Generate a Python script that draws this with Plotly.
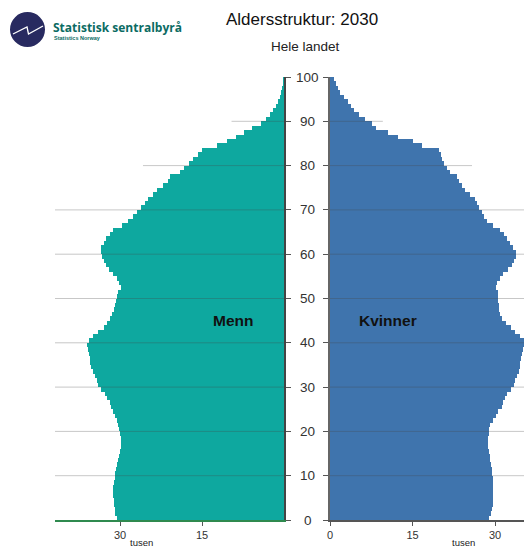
import plotly.graph_objects as go

# ---------------- data (thousands of persons, by one-year age 0-99) ----------------
ages = list(range(100))
men = [30.5, 30.9, 31.0, 31.1, 31.1, 31.2, 31.2, 31.2, 31.1, 31.0,
       30.9, 30.7, 30.5, 30.3, 30.1, 30.0, 29.9, 29.9, 29.9, 30.0,
       30.1, 30.3, 30.6, 30.9, 31.2, 31.6, 31.9, 32.3, 32.7, 33.4,
       34.0, 34.3, 34.6, 35.0, 35.3, 35.5, 35.5, 35.6, 35.9, 36.0,
       35.6, 34.9, 34.0, 33.0, 32.4, 31.9, 31.4, 31.1, 30.9, 30.7,
       30.6, 30.4, 29.8, 30.1, 30.6, 31.2, 32.0, 32.5, 33.0, 33.3,
       33.5, 33.4, 33.0, 32.5, 31.8, 31.2, 29.7, 28.5, 27.6, 26.9,
       26.1, 25.4, 24.8, 24.0, 23.2, 22.2, 21.3, 20.8, 19.0, 18.3,
       17.4, 16.6, 15.8, 15.0, 12.3, 10.5, 8.7, 7.4, 5.9, 4.2,
       3.3, 2.6, 2.0, 1.5, 1.1, 0.8, 0.55, 0.3, 0.15, 0.08]
women = [28.9, 29.3, 29.5, 29.6, 29.7, 29.7, 29.7, 29.7, 29.7, 29.6,
         29.5, 29.4, 29.2, 29.1, 29.0, 28.9, 28.7, 28.7, 28.7, 28.8,
         28.9, 29.1, 29.6, 30.2, 30.6, 31.2, 31.5, 31.8, 32.2, 32.8,
         33.4, 33.7, 34.0, 34.4, 34.6, 34.6, 34.7, 34.8, 35.0, 35.3,
         35.2, 34.5, 33.7, 32.9, 32.0, 31.3, 30.8, 30.7, 30.7, 30.6,
         30.6, 30.5, 30.1, 30.3, 30.8, 31.5, 32.4, 33.0, 33.4, 33.8,
         33.8, 33.3, 32.7, 32.1, 31.6, 30.8, 29.7, 28.6, 28.0, 27.6,
         27.1, 26.7, 26.4, 25.5, 24.5, 23.9, 23.4, 23.0, 21.8, 21.2,
         20.8, 20.4, 20.1, 19.8, 16.7, 15.0, 12.4, 10.6, 8.3, 7.6,
         6.4, 5.2, 4.4, 3.8, 3.2, 2.5, 1.9, 1.5, 1.1, 0.7]
age_ticks = list(range(0, 101, 10))
left_value_ticks = [15, 30]
right_value_ticks = [0, 15, 30]
title_text = "Aldersstruktur: 2030"
subtitle_text = "Hele landet"
men_label = "Menn"
women_label = "Kvinner"
unit_label = "tusen"

# ---------------- styling / layout constants ----------------
OFF = 8                      # page body margin in the browser
W, H = 532 - OFF, 548 - OFF
PLOT_L, PLOT_R, PLOT_T, PLOT_B = 55, 532, 77, 520   # window pixels
ML, MR, MT, MB = PLOT_L - OFF, 0, PLOT_T - OFF, 548 - PLOT_B
PW, PH = W - ML - MR, H - MT - MB
LEFT_MAX = 41.9
RIGHT_MAX = 36.7
TEAL = "#0ea89f"
BLUE = "#3f74ad"
FONT = "Liberation Sans, Arial, sans-serif"
GRID = "rgba(70,70,70,0.30)"
grid_reach = {80: 25.8, 90: 9.6}   # shorter grid lines near the top


def px(xp):
    """window x pixel -> paper x"""
    return (xp - PLOT_L) / PW


def py(yp):
    """window y pixel -> paper y"""
    return (PLOT_B - yp) / PH


fig = go.Figure()
fig.add_trace(go.Bar(x=men, y=[a + 0.5 for a in ages], orientation="h",
                     width=1, marker=dict(color=TEAL, line=dict(width=0)),
                     xaxis="x", yaxis="y", hoverinfo="skip"))
fig.add_trace(go.Bar(x=women, y=[a + 0.5 for a in ages], orientation="h",
                     width=1, marker=dict(color=BLUE, line=dict(width=0)),
                     xaxis="x2", yaxis="y2", hoverinfo="skip"))

shapes = []
for a in age_ticks:
    if a in (0, 100):
        continue
    shapes.append(dict(type="line", xref="x", yref="y", x0=0,
                       x1=grid_reach.get(a, LEFT_MAX), y0=a, y1=a,
                       line=dict(color=GRID, width=1), layer="above"))
    shapes.append(dict(type="line", xref="x2", yref="y2", x0=0,
                       x1=grid_reach.get(a, RIGHT_MAX), y0=a, y1=a,
                       line=dict(color=GRID, width=1), layer="above"))

# logo: navy disc with white zig-zag
shapes.append(dict(type="circle", xref="paper", yref="paper",
                   x0=px(10), x1=px(45), y0=py(47), y1=py(12),
                   fillcolor="#282a60", line=dict(width=0)))
zz = [(13, 34), (27, 27), (28.5, 34), (43, 26)]
path = "M " + " L ".join(f"{px(a)},{py(b)}" for a, b in zz)
shapes.append(dict(type="path", xref="paper", yref="paper", path=path,
                   line=dict(color="white", width=1.3)))

annotations = [
    dict(text=title_text, xref="paper", yref="paper", x=px(302), y=py(20),
         showarrow=False, font=dict(family=FONT, size=17, color="#111"),
         xanchor="center", yanchor="middle"),
    dict(text=subtitle_text, xref="paper", yref="paper", x=px(305), y=py(47),
         showarrow=False, font=dict(family=FONT, size=13.5, color="#222"),
         xanchor="center", yanchor="middle"),
    dict(text="<b>Statistisk sentralbyrå</b>", xref="paper", yref="paper",
         x=px(51), y=py(27.5), showarrow=False, xanchor="left", yanchor="middle",
         font=dict(family="Open Sans, " + FONT, size=12, color="#0b6b63")),
    dict(text="<b>Statistics Norway</b>", xref="paper", yref="paper",
         x=px(52), y=py(37.5), showarrow=False, xanchor="left", yanchor="middle",
         font=dict(family=FONT, size=5.5, color="#0b6b63")),
    dict(text=f"<b>{men_label}</b>", xref="x", yref="y", x=9.4, y=45.1,
         showarrow=False, font=dict(family=FONT, size=15.5, color="#111"),
         xanchor="center", yanchor="middle"),
    dict(text=f"<b>{women_label}</b>", xref="x2", yref="y2", x=10.5, y=45.1,
         showarrow=False, font=dict(family=FONT, size=15.5, color="#111"),
         xanchor="center", yanchor="middle"),
    dict(text=unit_label, xref="x", yref="paper", x=26.1, y=py(542),
         showarrow=False, font=dict(family=FONT, size=9.5, color="#222"),
         xanchor="center", yanchor="middle"),
    dict(text=unit_label, xref="x2", yref="paper", x=24.2, y=py(542),
         showarrow=False, font=dict(family=FONT, size=9.5, color="#222"),
         xanchor="center", yanchor="middle"),
]
# centred age labels between the two halves, placed on the age axis
for a in age_ticks:
    annotations.append(dict(text=str(a), xref="paper", yref="y2", x=px(307.5),
                            y=a, showarrow=False, xanchor="center",
                            yanchor="middle",
                            font=dict(family=FONT, size=13.5, color="#333")))

fig.update_layout(
    width=W, height=H,
    margin=dict(l=ML, r=MR, t=MT, b=MB, pad=0),
    paper_bgcolor="white", plot_bgcolor="white",
    showlegend=False, bargap=0,
    font=dict(family=FONT, color="#333"),
    xaxis=dict(domain=[0, px(284)], range=[LEFT_MAX, 0], anchor="y",
               showgrid=False, zeroline=False, showline=True,
               linecolor="#2f8a4f", linewidth=2,
               tickvals=left_value_ticks, ticks="outside", ticklen=4,
               tickcolor="#555", tickfont=dict(size=11, color="#333")),
    xaxis2=dict(domain=[px(330), 1], range=[0, RIGHT_MAX], anchor="y2",
                showgrid=False, zeroline=False, showline=True,
                linecolor="#555", linewidth=2,
                tickvals=right_value_ticks, ticks="outside", ticklen=4,
                tickcolor="#555", tickfont=dict(size=11, color="#333")),
    yaxis=dict(range=[0, 100], anchor="x", side="right", showgrid=False,
               zeroline=False, showline=True, linecolor="#444", linewidth=1.5,
               tickvals=age_ticks, ticks="outside", ticklen=5, tickcolor="#555",
               showticklabels=False),
    yaxis2=dict(range=[0, 100], anchor="x2", side="left", showgrid=False,
                zeroline=False, showline=True, linecolor="#666", linewidth=1.5,
                tickvals=age_ticks, ticks="outside", ticklen=5, tickcolor="#555",
                showticklabels=False),
    shapes=shapes, annotations=annotations,
)

fig.write_html("out.html")
